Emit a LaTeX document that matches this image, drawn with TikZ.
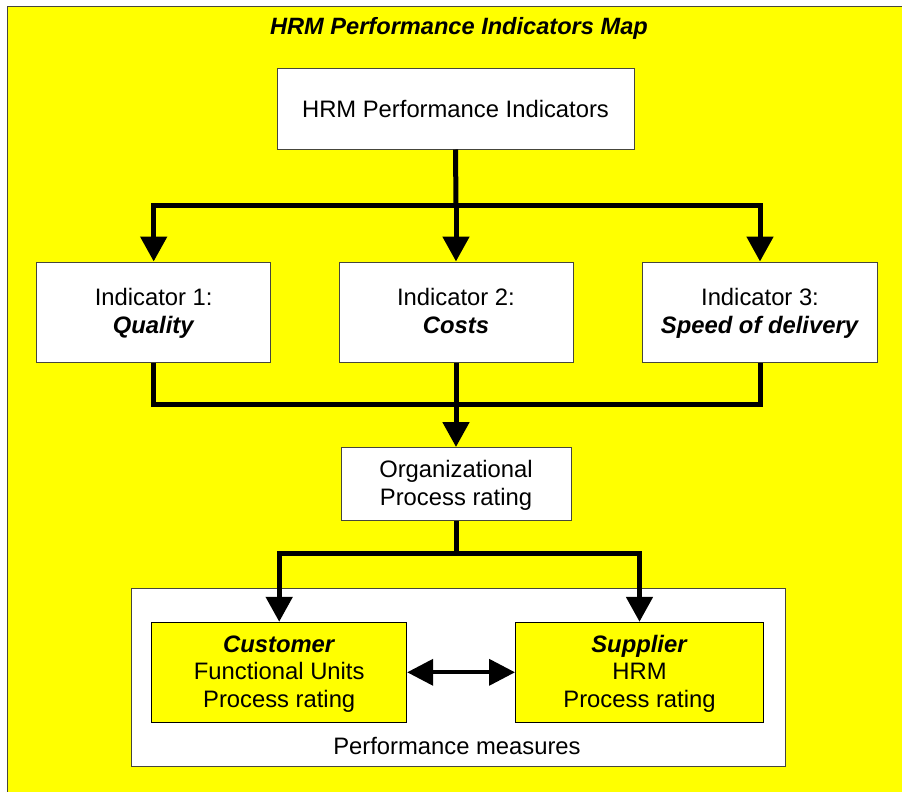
\documentclass[tikz,border=0pt]{standalone}
\usepackage{fontspec}
\setmainfont{Liberation Sans}
\usetikzlibrary{arrows.meta}
\definecolor{bgyellow}{RGB}{255,255,0}
\definecolor{boxedge}{RGB}{70,70,60}
\newcommand\topfix{\rule{0pt}{23.5pt}}
\begin{document}
\begin{tikzpicture}[x=1pt,y=-1pt,
  txt/.style={font=\fontsize{23.8}{27.8}\selectfont, align=center, text=black},
  box/.style={txt, draw=boxedge, line width=1pt, fill=white, inner sep=0pt},
  ybox/.style={txt, draw=black, line width=1pt, fill=bgyellow, inner sep=0pt},
  link/.style={draw=black, line width=5pt, line join=miter},
  conn/.style={link, -{Triangle[width=26pt,length=25pt]}},
  dconn/.style={draw=black, line width=4pt, {Triangle[width=26pt,length=26pt]}-{Triangle[width=26pt,length=26pt]}}]
\useasboundingbox (0,0) rectangle (902,792);
\fill[white] (0,0) rectangle (902,792);
\draw[draw=boxedge, line width=1pt, fill=bgyellow] (7,7) rectangle (910,800);

\node[txt, font=\fontsize{23.6}{28}\selectfont\bfseries\itshape] (title) at (459,28.5) {HRM Performance Indicators Map};

\node[box, minimum width=357pt, minimum height=80pt] (top) at (455.5,109) {HRM Performance Indicators};

\node[box, minimum width=234pt, minimum height=100pt] (ind1) at (153.7,312) {\topfix Indicator 1:\\\textbf{\textit{Quality}}\strut};
\node[box, minimum width=234pt, minimum height=100pt] (ind2) at (456,312) {\topfix Indicator 2:\\\textbf{\textit{Costs}}\strut};
\node[box, minimum width=234.6pt, minimum height=100pt] (ind3) at (760,312) {\topfix Indicator 3:\\\textbf{\textit{Speed of delivery}}\strut};

\node[box, minimum width=230pt, minimum height=73pt] (org) at (456,484) {\topfix Organizational\\Process rating\strut};

\node[box, minimum width=654pt, minimum height=178.5pt] (perf) at (458,677.5) {};
\node[txt] (perflbl) at (457,746) {Performance measures};

\node[ybox, minimum width=255pt, minimum height=100pt] (cust) at (279.2,672.3) {\topfix\textbf{\textit{Customer}}\\Functional Units\\Process rating\strut};
\node[ybox, minimum width=248pt, minimum height=100pt] (sup) at (639.5,672.3) {\topfix\textbf{\textit{Supplier}}\\HRM\\Process rating\strut};

\coordinate (j1) at (456,205);
\coordinate (j2) at (456,404);
\coordinate (j3) at (456,553.5);

\draw[link] (top.south) -- (j1);
\draw[conn] (j1) -| (ind1.north);
\draw[conn] (j1) -| (ind3.north);
\draw[conn] (j1) -- (ind2.north);

\draw[link] (ind1.south) |- (ind3.south |- j2) -- (ind3.south);
\draw[link] (ind2.south) -- (j2);
\draw[conn] (j2) -- (org.north);

\draw[link] (org.south) -- (j3);
\draw[conn] (j3) -| (cust.north);
\draw[conn] (j3) -| (sup.north);

\draw[dconn] (cust.east) -- (sup.west);
\end{tikzpicture}
\end{document}
